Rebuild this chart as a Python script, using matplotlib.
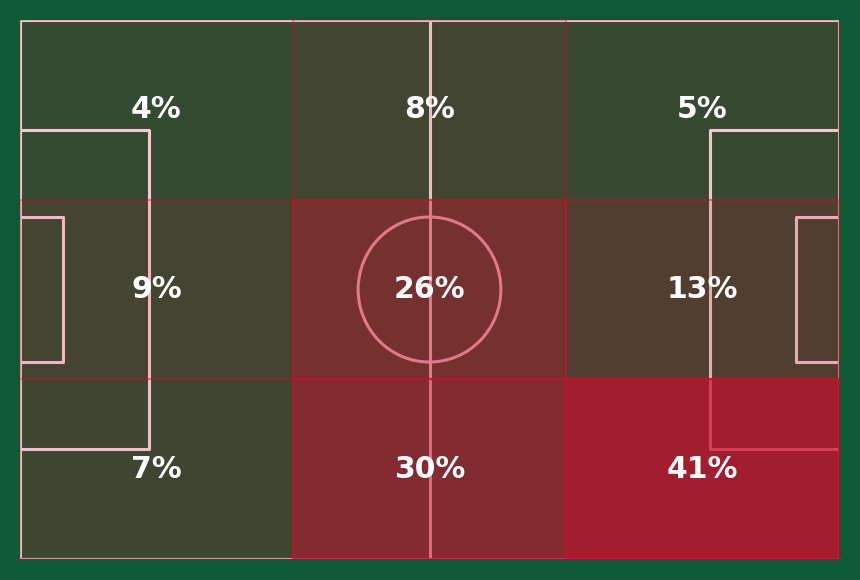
import numpy as np
import matplotlib
matplotlib.use("Agg")
import matplotlib.pyplot as plt
from matplotlib.patches import Rectangle, Circle

# Share of actions per pitch zone (%), rows listed top to bottom, columns left to right
row_top = [4, 8, 5]
row_mid = [9, 26, 13]
row_bot = [7, 30, 41]
values = np.array([row_top, row_mid, row_bot])

PITCH_L, PITCH_W = 105.0, 68.0
BG = "#0E5A34"
RED = "#C8102E"
LINE = "white"

fig = plt.figure(figsize=(8.6, 5.8), dpi=100, facecolor=BG)
ax = fig.add_axes([20 / 860, 21 / 580, 819 / 860, 539 / 580])
ax.set_facecolor(BG)
ax.set_xlim(0, PITCH_L)
ax.set_ylim(0, PITCH_W)
ax.axis("off")

lw = 2.2
# pitch outline and halfway line
ax.plot([0, PITCH_L, PITCH_L, 0, 0], [0, 0, PITCH_W, PITCH_W, 0], color=LINE, lw=lw, zorder=1)
ax.plot([PITCH_L / 2, PITCH_L / 2], [0, PITCH_W], color=LINE, lw=lw, zorder=1)
ax.add_patch(Circle((PITCH_L / 2, PITCH_W / 2), 9.15, fill=False, ec=LINE, lw=lw, zorder=1))
# penalty and six-yard boxes
for depth, width in [(16.5, 40.32), (5.5, 18.32)]:
    y0 = (PITCH_W - width) / 2
    y1 = y0 + width
    ax.plot([0, depth, depth, 0], [y0, y0, y1, y1], color=LINE, lw=lw, zorder=1)
    ax.plot([PITCH_L, PITCH_L - depth, PITCH_L - depth, PITCH_L], [y0, y0, y1, y1],
            color=LINE, lw=lw, zorder=1)

# heatmap zones
nrows, ncols = values.shape
xe = np.linspace(0, PITCH_L, ncols + 1)
ye = np.linspace(PITCH_W, 0, nrows + 1)
vmax = values.max()
for i in range(nrows):
    for j in range(ncols):
        v = values[i, j]
        a = 0.15 + 0.65 * v / vmax
        x0, x1 = xe[j], xe[j + 1]
        y1, y0 = ye[i], ye[i + 1]
        ax.add_patch(Rectangle((x0, y0), x1 - x0, y1 - y0, facecolor=RED, edgecolor=RED,
                               alpha=a, lw=1.5, zorder=2))
        ax.text((x0 + x1) / 2, (y0 + y1) / 2, f"{v}%", color="white", fontsize=21.5,
                fontweight="bold", ha="center", va="center", zorder=3)

fig.savefig("out.png", dpi=100, facecolor=BG)
